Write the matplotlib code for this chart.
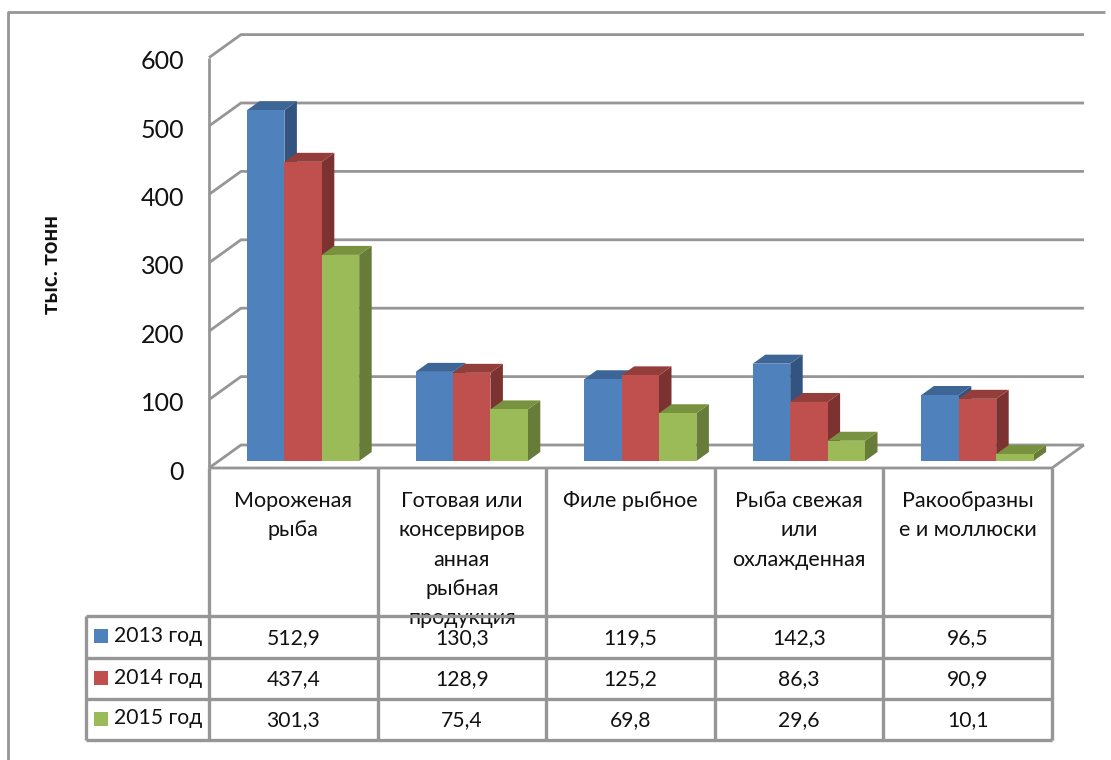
import numpy as np
import matplotlib
matplotlib.use("Agg")
import matplotlib.pyplot as plt
from matplotlib.patches import Polygon, Rectangle

plt.rcParams['font.family'] = ['Lato', 'Open Sans', 'DejaVu Sans']

categories = ["Мороженая\nрыба",
              "Готовая или\nконсервиров\nанная\nрыбная\nпродукция",
              "Филе рыбное",
              "Рыба свежая\nили\nохлажденная",
              "Ракообразны\nе и моллюски"]
series_names = ["2013 год", "2014 год", "2015 год"]
v2013 = [512.9, 130.3, 119.5, 142.3, 96.5]
v2014 = [437.4, 128.9, 125.2, 86.3, 90.9]
v2015 = [301.3, 75.4, 69.8, 29.6, 10.1]
y_ticks = [0, 100, 200, 300, 400, 500, 600]

series = [v2013, v2014, v2015]
front = ["#4f81bd", "#c0504d", "#9bbb59"]
top = ["#3d6595", "#943e3b", "#78923f"]
side = ["#335480", "#7c3230", "#667c38"]
GRID = "#969696"

# the axes are in figure pixels, the 3d look is done by hand
fig = plt.figure(figsize=(11.11, 7.6), dpi=100)
ax = fig.add_axes([0, 0, 1, 1])
ax.set_xlim(0, 1111)
ax.set_ylim(760, 0)
ax.axis("off")

scale = 0.684
x0, col_w = 209, 168.6
depth_x, depth_y = 32, 23
bar_dx, bar_dy = 12.5, 9
bar_w = 37.4

def line(xs, ys, lw=2):
    ax.plot(xs, ys, color=GRID, lw=lw, solid_capstyle="butt", zorder=1)

# outer frame
line([8, 8, 1105], [760, 12, 12], 2)

x_end = x0 + col_w * 5
base = 468
for t in y_ticks:
    y = base - t * scale
    line([x0, x0 + depth_x, x_end + depth_x], [y, y - depth_y, y - depth_y])
    ax.text(184, y + 4, str(t), ha="right", va="center", fontsize=18, color="#111111")
line([x0, x0], [base, base - 600 * scale])
line([x0, x_end, x_end + depth_x], [base, base, base - depth_y])

ax.text(52, 265, "тыс. тонн", rotation=90, ha="center", va="center",
        fontsize=16, fontweight="bold", color="#111111")

# bars
bar_base = 461
for c in range(5):
    left = x0 + 38 + c * col_w
    for s in range(3):
        h = series[s][c] * scale
        xl = left + s * bar_w
        yt = bar_base - h
        ax.add_patch(Polygon([[xl + bar_w, bar_base], [xl + bar_w + bar_dx, bar_base - bar_dy],
                              [xl + bar_w + bar_dx, yt - bar_dy], [xl + bar_w, yt]],
                             fc=side[s], ec="none", zorder=2 + s))
        ax.add_patch(Polygon([[xl, yt], [xl + bar_dx, yt - bar_dy],
                              [xl + bar_w + bar_dx, yt - bar_dy], [xl + bar_w, yt]],
                             fc=top[s], ec="none", zorder=2 + s))
        ax.add_patch(Rectangle((xl, yt), bar_w, h, fc=front[s], ec="none", zorder=2 + s))

# table under the plot
row_y = [616, 658, 699, 740]
tab_left = 86
for i in range(6):
    x = x0 + i * col_w
    line([x, x], [base, row_y[-1]], 2.4)
for y in row_y:
    line([tab_left, x_end], [y, y], 2.4)
line([tab_left, tab_left], [row_y[0], row_y[-1]], 2.4)

for c, name in enumerate(categories):
    xc = x0 + (c + 0.5) * col_w
    cell = Rectangle((xc - col_w / 2, base), col_w, 157, transform=ax.transData)
    for k, part in enumerate(name.split("\n")):
        # long names run under the grid line and get cut off at the value row
        lab = ax.text(xc, 501 + k * 29.3, part, ha="center", va="center", fontsize=15.5,
                      color="#111111", zorder=0.5)
        lab.set_clip_path(cell)
    for s in range(3):
        txt = f"{series[s][c]:.1f}".replace(".", ",")
        ax.text(xc, (row_y[s] + row_y[s + 1]) / 2 + 1, txt, ha="center", va="center",
                fontsize=15.2, color="#111111", zorder=6)

for s, name in enumerate(series_names):
    yc = (row_y[s] + row_y[s + 1]) / 2 - 1
    ax.add_patch(Rectangle((94, yc - 7), 14, 14, fc=front[s], ec="none", zorder=6))
    ax.text(114, yc, name, ha="left", va="center", fontsize=15.2, color="#111111", zorder=6)

fig.savefig("out.png", dpi=100)
